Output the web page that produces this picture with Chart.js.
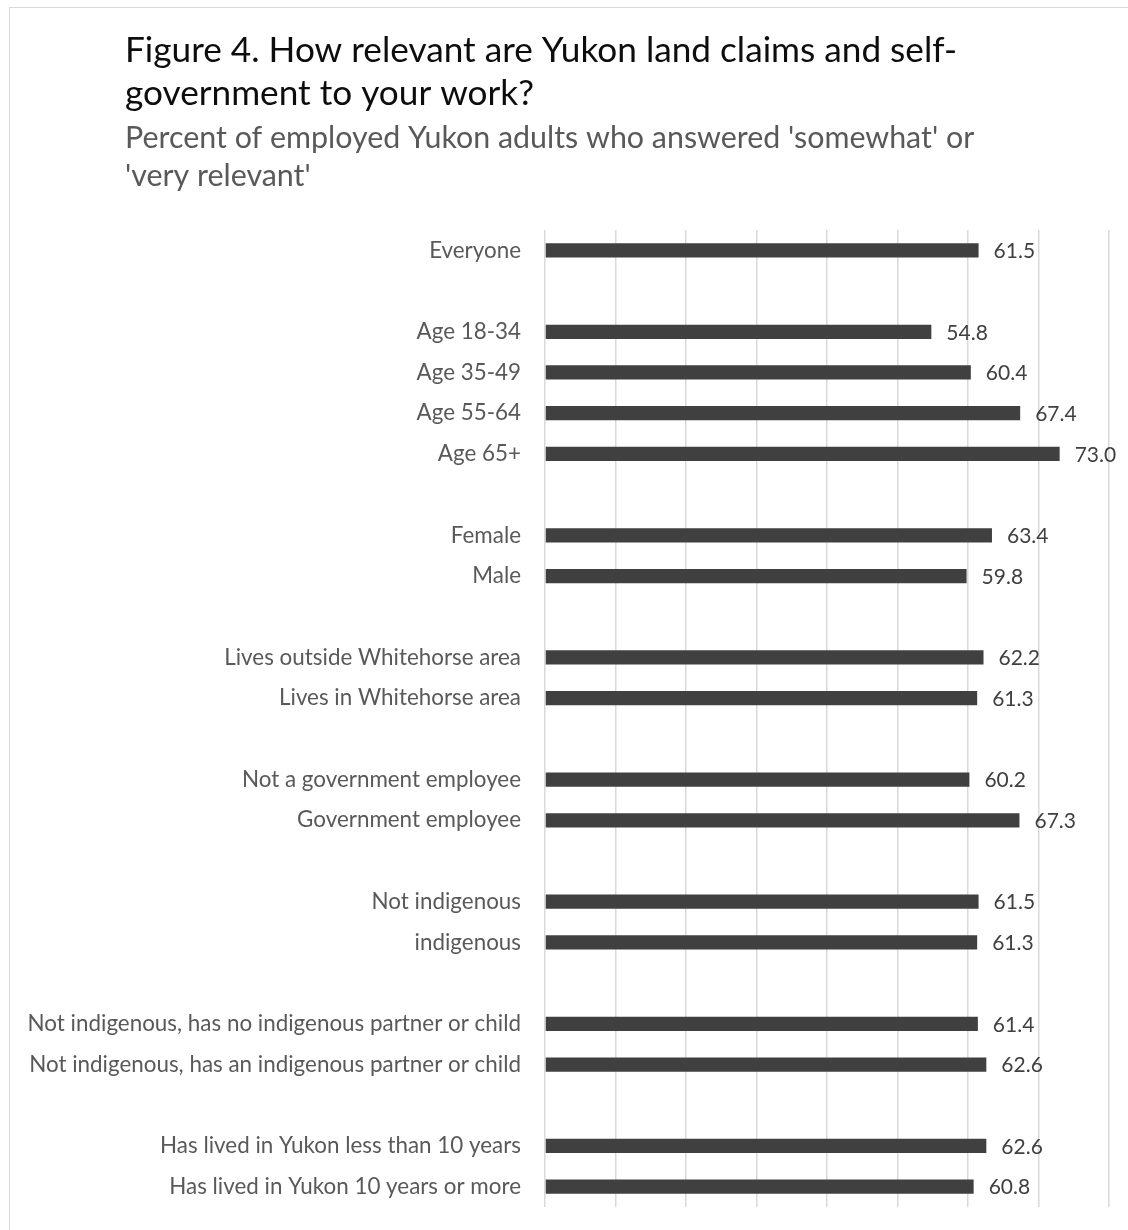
<!DOCTYPE html>
<html>
<head>
<meta charset="utf-8">
<title>Figure 4</title>
<script src="https://cdn.jsdelivr.net/npm/chart.js@4.4.1/dist/chart.umd.min.js"></script>
<style>
    html, body {
        margin: 0;
        padding: 0;
        background: #ffffff;
        overflow: hidden;
    }
    .frame {
        position: absolute;
        left: 9px;
        top: 7px;
        width: 1300px;
        height: 1400px;
        border: 1.5px solid #d9d9d9;
    }
    #chart {
        position: absolute;
        left: 0;
        top: 0;
    }
</style>
</head>
<body>
<div class="frame"></div>
<canvas id="chart" width="1128" height="1230"></canvas>
<script>
// Chart data (blank categories are the gaps between groups)
const categories = [
    'Everyone',
    '',
    'Age 18-34',
    'Age 35-49',
    'Age 55-64',
    'Age 65+',
    '',
    'Female',
    'Male',
    '',
    'Lives outside Whitehorse area',
    'Lives in Whitehorse area',
    '',
    'Not a government employee',
    'Government employee',
    '',
    'Not indigenous',
    'indigenous',
    '',
    'Not indigenous, has no indigenous partner or child',
    'Not indigenous, has an indigenous partner or child',
    '',
    'Has lived in Yukon less than 10 years',
    'Has lived in Yukon 10 years or more'
];

const percentRelevant = [
    61.5, null,
    54.8, 60.4, 67.4, 73.0, null,
    63.4, 59.8, null,
    62.2, 61.3, null,
    60.2, 67.3, null,
    61.5, 61.3, null,
    61.4, 62.6, null,
    62.6, 60.8
];

const titleLines = [
    'Figure 4. How relevant are Yukon land claims and self-',
    'government to your work?'
];
const subtitleLines = [
    "Percent of employed Yukon adults who answered 'somewhat' or",
    "'very relevant'"
];

const FONT = 'Lato, "Open Sans", sans-serif';

// Title + subtitle, drawn at fixed baselines like the original
const headerPlugin = {
    id: 'header',
    afterDraw(chart) {
        const ctx = chart.ctx;
        ctx.save();
        ctx.textAlign = 'left';
        ctx.textBaseline = 'alphabetic';
        ctx.fillStyle = '#0d0d0d';
        ctx.font = `35.2px ${FONT}`;
        ctx.fillText(titleLines[0], 125, 61.7);
        ctx.fillText(titleLines[1], 125, 105);
        ctx.fillStyle = '#595959';
        ctx.font = `30.4px ${FONT}`;
        ctx.fillText(subtitleLines[0], 125, 147.7);
        ctx.fillText(subtitleLines[1], 125, 185.7);
        ctx.restore();
    }
};

// Value labels at the end of each bar
const valueLabelPlugin = {
    id: 'valueLabels',
    afterDatasetsDraw(chart) {
        const ctx = chart.ctx;
        const meta = chart.getDatasetMeta(0);
        ctx.save();
        ctx.fillStyle = '#404040';
        ctx.font = `21px ${FONT}`;
        ctx.textAlign = 'left';
        ctx.textBaseline = 'middle';
        meta.data.forEach((bar, i) => {
            const value = percentRelevant[i];
            if (value === null) {
                return;
            }
            ctx.fillText(value.toFixed(1), bar.x + 15, bar.y + 1);
        });
        ctx.restore();
    }
};

const ctx = document.getElementById('chart').getContext('2d');
new Chart(ctx, {
    type: 'bar',
    data: {
        labels: categories,
        datasets: [{
            data: percentRelevant,
            backgroundColor: '#404040',
            borderWidth: 0,
            barPercentage: 0.35,
            categoryPercentage: 1.0
        }]
    },
    options: {
        indexAxis: 'y',
        responsive: false,
        animation: false,
        devicePixelRatio: 1,
        layout: {
            padding: { top: 230, bottom: 23, left: 0, right: 19 }
        },
        plugins: {
            legend: { display: false },
            tooltip: { enabled: false },
            title: { display: false }
        },
        scales: {
            x: {
                min: 0,
                max: 80,
                ticks: { display: false, stepSize: 10 },
                grid: {
                    color: '#d9d9d9',
                    lineWidth: 1.5,
                    drawTicks: false
                },
                border: { display: false },
                afterFit(scale) {
                    scale.height = 0;
                }
            },
            y: {
                ticks: {
                    autoSkip: false,
                    padding: 24,
                    color: '#595959',
                    font: { family: FONT, size: 22.4 }
                },
                grid: { display: false, drawTicks: false },
                border: { display: false },
                afterFit(scale) {
                    scale.width = 545;
                    // labels never overflow the plot, so no extra vertical room
                    scale.paddingTop = 0;
                    scale.paddingBottom = 0;
                }
            }
        }
    },
    plugins: [headerPlugin, valueLabelPlugin]
});
</script>
</body>
</html>
